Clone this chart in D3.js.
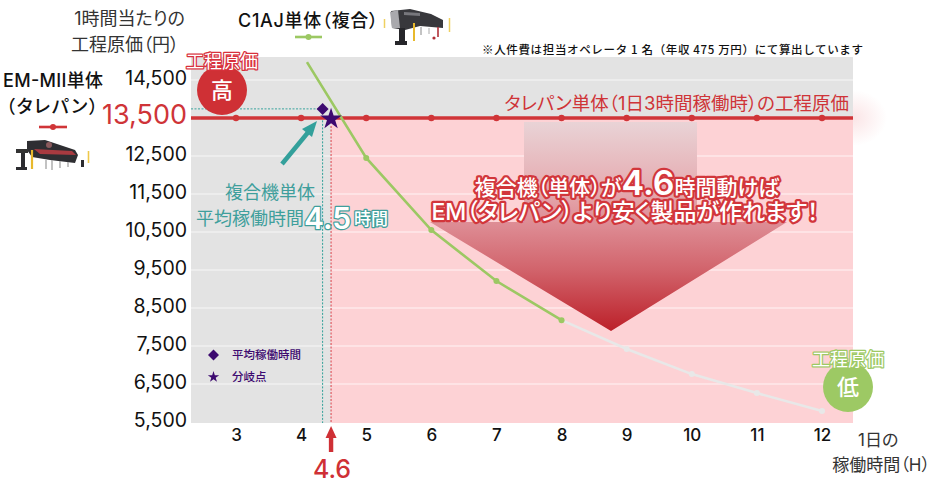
<!DOCTYPE html>
<html>
<head>
<meta charset="utf-8">
<script src="https://cdnjs.cloudflare.com/ajax/libs/d3/7.8.5/d3.min.js"></script>
<style>
html,body{margin:0;padding:0;background:#fff;}
svg{display:block;}
text{font-family:"Inter","Noto Sans CJK JP",sans-serif;}
.out{paint-order:stroke;stroke-linejoin:round;}
</style>
</head>
<body>
<svg id="chart" width="940" height="492"></svg>
<script>
const hours = [3,4,5,6,7,8,9,10,11,12];
const yTicks = [14500,12500,11500,10500,9500,8500,7500,6500,5500];
const turretCost = 13500;
// green part of the curve, then the part that fades out to grey
const greenHours = [4.09,5,6,7,8];
const greenCost = [14970,12450,10550,9210,8180];
const greyHours = [8,9,10,11,12];
const greyCost = [8180,7420,6760,6260,5790];
// marker positions as drawn in the picture
const avgHour = 4.33, avgCost = 13740;
const breakHour = 4.46;

const svg = d3.select("#chart");
const x = d3.scaleLinear().domain([3,12]).range([236,822]);
const y = d3.scaleLinear().domain([5500,14500]).range([422,80]);
const plot = {left:191,right:853,top:57,bottom:423};
const defs = svg.append("defs");

const glow = defs.append("radialGradient").attr("id","glow");
glow.append("stop").attr("offset","0%").attr("stop-color","#f3b4b8").attr("stop-opacity",.35);
glow.append("stop").attr("offset","100%").attr("stop-color","#f3b4b8").attr("stop-opacity",0);

const arrowGrad = defs.append("linearGradient").attr("id","bigArrow")
    .attr("gradientUnits","userSpaceOnUse").attr("x1",0).attr("x2",0).attr("y1",122).attr("y2",331);
[[0,"#e9d3d6"],[.3,"#e6aeb3"],[.5,"#dd8a92"],[.7,"#d2656d"],[1,"#bc2029"]].forEach(d => {
    arrowGrad.append("stop").attr("offset",d[0]).attr("stop-color",d[1]);
});

// background
svg.append("ellipse").attr("cx",853).attr("cy",118).attr("rx",34).attr("ry",28).attr("fill","url(#glow)");
svg.append("rect").attr("x",plot.left).attr("y",plot.top).attr("width",plot.right-plot.left)
    .attr("height",plot.bottom-plot.top).attr("fill","#e3e3e3");
svg.append("rect").attr("x",x(breakHour)).attr("y",y(turretCost)).attr("width",plot.right-x(breakHour))
    .attr("height",plot.bottom-y(turretCost)).attr("fill","#fdd2d5");

svg.append("g").selectAll("line").data(yTicks.slice(0,-1)).join("line")
    .attr("x1",plot.left).attr("x2",plot.right).attr("y1",d => y(d)).attr("y2",d => y(d))
    .attr("stroke","#fff").attr("stroke-opacity",.75).attr("stroke-width",1.2);

// big arrow
const ax = d3.scaleLinear().domain([0,1]).range([524,697]);
svg.append("path").attr("fill","url(#bigArrow)")
    .attr("d",`M${ax(0)},122H${ax(1)}V222H787L611,331L430,222H${ax(0)}Z`);

// guide lines
svg.append("line").attr("x1",plot.left).attr("x2",x(avgHour)-4).attr("y1",y(avgCost)).attr("y2",y(avgCost))
    .attr("stroke","#3ba49e").attr("stroke-width",1).attr("stroke-dasharray","2 1.5");
svg.append("line").attr("x1",x(avgHour)).attr("x2",x(avgHour)).attr("y1",y(avgCost)+8).attr("y2",plot.bottom)
    .attr("stroke","#2f9f98").attr("stroke-width",1).attr("stroke-dasharray","2 1.5");
svg.append("line").attr("x1",x(breakHour)).attr("x2",x(breakHour)).attr("y1",y(turretCost)+8).attr("y2",plot.bottom)
    .attr("stroke","#d9404a").attr("stroke-width",1).attr("stroke-dasharray","2 1.5");

// turret punch line
svg.append("line").attr("x1",plot.left).attr("x2",plot.right).attr("y1",y(turretCost)).attr("y2",y(turretCost))
    .attr("stroke","#d03538").attr("stroke-width",3.4);
svg.append("g").selectAll("circle").data(hours).join("circle")
    .attr("cx",d => x(d)).attr("cy",y(turretCost)).attr("r",3.2).attr("fill","#d03538");

// cost curve
const line = d3.line().x(d => x(d[0])).y(d => y(d[1]));
const greyPts = d3.zip(greyHours,greyCost);
const greenPts = d3.zip(greenHours,greenCost);
svg.append("path").attr("d",line(greyPts)).attr("fill","none").attr("stroke","#e8e8e8").attr("stroke-width",2.6);
svg.append("g").selectAll("circle").data(greyPts.slice(1)).join("circle")
    .attr("cx",d => x(d[0])).attr("cy",d => y(d[1])).attr("r",3).attr("fill","#e8e8e8");
svg.append("path").attr("d",line(greenPts)).attr("fill","none").attr("stroke","#9cc863").attr("stroke-width",2.6);
svg.append("g").selectAll("circle").data(greenPts.slice(1)).join("circle")
    .attr("cx",d => x(d[0])).attr("cy",d => y(d[1])).attr("r",3).attr("fill","#9cc863");

// markers
const purple = "#3d0a70";
function marker(type,size,px,py){
    svg.append("path").attr("d",d3.symbol().type(type).size(size)())
        .attr("transform",`translate(${px},${py})`).attr("fill",purple);
}
svg.append("path").attr("d",d3.symbol().type(d3.symbolSquare).size(72)())
    .attr("transform",`translate(${x(avgHour)},${y(avgCost)}) rotate(45)`).attr("fill",purple);
marker(d3.symbolStar,145,x(breakHour),y(turretCost)+1);

// axes
const yAxis = svg.append("g").attr("transform","translate(187,-2)")
    .call(d3.axisLeft(y).tickValues(yTicks).tickSize(0).tickPadding(0).tickFormat(d3.format(",")));
yAxis.select(".domain").remove();
yAxis.selectAll("text").attr("font-size",19.5).attr("fill","#111").style("font-family",'"Inter",sans-serif');
const xAxis = svg.append("g").attr("transform","translate(0,423)")
    .call(d3.axisBottom(x).tickValues(hours).tickSize(0).tickPadding(6).tickFormat(d3.format("d")));
xAxis.select(".domain").remove();
xAxis.selectAll("text").attr("font-size",17).attr("font-weight",500).attr("fill","#111").style("font-family",'"Inter",sans-serif');

function label(str,px,py,size,opts){
    opts = opts || {};
    const t = svg.append("text").attr("x",px).attr("y",py).attr("font-size",size)
        .attr("text-anchor",opts.anchor || "start").attr("fill",opts.fill || "#222")
        .attr("font-weight",opts.weight || 400).text(str);
    if(opts.stroke){
        t.attr("class","out").attr("stroke",opts.stroke).attr("stroke-width",opts.sw || 3);
    }
    if(opts.palt !== false) t.style("font-feature-settings",'"palt"');
    return t;
}

// 13,500 big label
label(d3.format(",")(turretCost),187,123.5,27,{anchor:"end",fill:"#cf3438"});
label("タレパン単体（1日3時間稼働時）の工程原価",849,110,18.5,{anchor:"end",fill:"#cf3438"});

// header texts
label("1時間当たりの",185,25,18,{anchor:"end",fill:"#333"});
label("工程原価（円）",179,51,18,{anchor:"end",fill:"#333"});
label("C1AJ単体（複合）",238,27,18,{fill:"#111",weight:500}).attr("textLength",140);
label("EM-MII単体",3,87,18,{fill:"#111",weight:500}).attr("textLength",100);
label("（タレパン）",6,113,18,{fill:"#111",weight:500}).attr("textLength",92);
label("※人件費は担当オペレータ 1 名（年収 475 万円）にて算出しています",482,54,11.5,{fill:"#111",weight:500,palt:false})
    .attr("textLength",381).style("font-family",'"Noto Sans CJK JP",sans-serif');

// legend lines
function legendLine(x1,x2,ly,color){
    svg.append("line").attr("x1",x1).attr("x2",x2).attr("y1",ly).attr("y2",ly).attr("stroke",color).attr("stroke-width",2.6);
    svg.append("circle").attr("cx",(x1+x2)/2).attr("cy",ly).attr("r",3).attr("fill",color);
}
legendLine(295,322,37,"#9cc863");
legendLine(39,67,127,"#d03538");

// machine photos, rough silhouettes
function pole(g,px,y1,y2,color,w){
    g.append("line").attr("x1",px).attr("x2",px).attr("y1",y1).attr("y2",y2).attr("stroke",color).attr("stroke-width",w);
}
const c1aj = svg.append("g");
c1aj.append("path").attr("d","M391,11L410,9L431,14L443,20L443,28L420,26L405,30L392,28Z").attr("fill","#38383c");
c1aj.append("path").attr("d","M390,12L398,10L400,28L392,28Z").attr("fill","#a9a9ad");
c1aj.append("path").attr("d","M404,12L420,13L420,16L404,15Z").attr("fill","#77777c");
c1aj.append("rect").attr("x",399).attr("y",28).attr("width",6).attr("height",14).attr("fill","#26262a");
c1aj.append("rect").attr("x",395).attr("y",41).attr("width",12).attr("height",4).attr("fill","#26262a");
pole(c1aj,384.5,19,28,"#efd060",1.5);
pole(c1aj,414,23,41,"#e8b92c",2);
pole(c1aj,449.5,18,32,"#efd060",1.5);
pole(c1aj,438,27,37,"#b03038",1.6);
pole(c1aj,421,27,35,"#888",1);
pole(c1aj,429,28,34,"#aaa",1);
c1aj.append("circle").attr("cx",434).attr("cy",38).attr("r",1.6).attr("fill","#b03038");

const em = svg.append("g");
em.append("path").attr("d","M27,141L45,140L75,150L78,155L75,163L50,160L32,157L27,150Z").attr("fill","#2e2e32");
em.append("path").attr("d","M34,149L72,151L76,155L40,154Z").attr("fill","#a83a40");
em.append("circle").attr("cx",49).attr("cy",145).attr("r",3).attr("fill","#8a5a5c");
em.append("rect").attr("x",16).attr("y",149).attr("width",12).attr("height",4).attr("fill","#333");
em.append("rect").attr("x",21).attr("y",153).attr("width",4).attr("height",15).attr("fill","#2c2c30");
em.append("rect").attr("x",16).attr("y",167).attr("width",11).attr("height",3).attr("fill","#2c2c30");
em.append("rect").attr("x",81).attr("y",160).attr("width",3).attr("height",7).attr("fill","#2c2c30");
pole(em,32,150,169,"#e8b92c",2.2);
pole(em,88.5,151,163,"#efc84a",1.6);
pole(em,46,160,169,"#999",1.2);
pole(em,52,160,170,"#999",1.2);
pole(em,60,161,168,"#999",1.2);
pole(em,68,162,167,"#999",1.2);

// high / low badges
svg.append("circle").attr("cx",222).attr("cy",90).attr("r",25).attr("fill","#cf3035");
label("高",222,98,22,{anchor:"middle",fill:"#fff",weight:500});
label("工程原価",222,68,18,{anchor:"middle",fill:"#fff",stroke:"#d8303c",sw:2.5});
svg.append("circle").attr("cx",848).attr("cy",387).attr("r",25).attr("fill","#9dc964");
label("低",848,395,22,{anchor:"middle",fill:"#fff",weight:500});
label("工程原価",848,366,18,{anchor:"middle",fill:"#fff",stroke:"#9dc964",sw:2.5});

// teal annotation
svg.append("line").attr("x1",282).attr("y1",164).attr("x2",310).attr("y2",130)
    .attr("stroke","#33a09b").attr("stroke-width",4.5);
svg.append("path").attr("d","M317,121L312,137L302,129Z").attr("fill","#33a09b");
label("複合機単体",270,199,18,{anchor:"middle",fill:"#3f9f9c"});
label("平均稼働時間",196,225,18,{fill:"#3f9f9c"});
label("4.5",304,229,30,{fill:"#fff",stroke:"#3f9f9c",sw:2.5,weight:600});
label("時間",354,225,17,{fill:"#fff",stroke:"#3f9f9c",sw:2.5,weight:500});

// message on big arrow
const msg = svg.append("text").attr("x",627).attr("y",195).attr("text-anchor","middle").attr("class","out")
    .attr("fill","#fff").attr("stroke","#d2363b").attr("stroke-width",4.5).attr("font-size",21).attr("font-weight",500)
    .style("font-feature-settings",'"palt"');
msg.append("tspan").text("複合機（単体）が");
msg.append("tspan").attr("font-size",34).attr("font-weight",600).text("4.6");
msg.append("tspan").text("時間動けば");
label("EM（タレパン）より安く製品が作れます！",625,220,23,{anchor:"middle",fill:"#fff",stroke:"#d2363b",sw:4.5,weight:500});

// in-plot legend
svg.append("path").attr("d",d3.symbol().type(d3.symbolSquare).size(60)())
    .attr("transform","translate(213.5,355) rotate(45)").attr("fill",purple);
marker(d3.symbolStar,40,213.5,377);
label("平均稼働時間",232,359,11.5,{fill:purple,weight:500});
label("分岐点",232,381,11.5,{fill:purple,weight:500});

// break-even pointer
svg.append("line").attr("x1",x(breakHour)).attr("x2",x(breakHour)).attr("y1",452).attr("y2",435)
    .attr("stroke","#cf3035").attr("stroke-width",4.4);
svg.append("path").attr("d",`M${x(breakHour)},426l5.5,12h-11Z`).attr("fill","#cf3035");
label("4.6",332,478,25,{anchor:"middle",fill:"#cf3035",weight:500});

// x axis title
label("1日の",858,446,17,{fill:"#333"});
label("稼働時間（H）",930,471,17,{anchor:"end",fill:"#333"});
</script>
</body>
</html>
